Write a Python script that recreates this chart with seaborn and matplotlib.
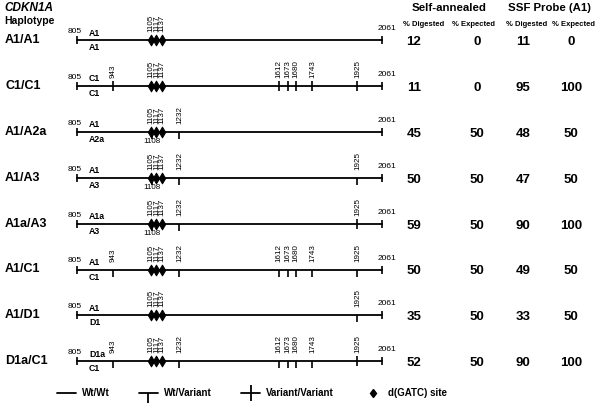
import numpy as np
import pandas as pd
import matplotlib
matplotlib.use("Agg")
import matplotlib.pyplot as plt
from matplotlib.lines import Line2D
import seaborn as sns

sns.set_theme(style="white")
plt.rcParams['font.family'] = ['Liberation Sans', 'DejaVu Sans']
plt.rcParams['text.color'] = 'black'

# --- data -------------------------------------------------------------
haplotypes = ['A1/A1', 'C1/C1', 'A1/A2a', 'A1/A3', 'A1a/A3', 'A1/C1', 'A1/D1', 'D1a/C1']
top_alleles = ['A1', 'C1', 'A1', 'A1', 'A1a', 'A1', 'A1', 'D1a']
bottom_alleles = ['A1', 'C1', 'A2a', 'A3', 'A3', 'C1', 'D1', 'C1']

fragment = [805, 2061]
gatc_sites = [1105, 1117, 1137]

# Wt/Variant (one allele carries the variant)
het_sites = [[], [], [1108, 1232], [1108, 1232, 1925], [1108, 1232],
             [943, 1232, 1612, 1673, 1680, 1743, 1925], [1925],
             [943, 1232, 1612, 1673, 1680, 1743]]
# Variant/Variant (both alleles)
hom_sites = [[], [943, 1612, 1673, 1680, 1743, 1925], [], [], [1925], [], [], [1925]]
# sites labelled below the line instead of above
below_labels = [1108]

self_digested = [12, 11, 45, 50, 59, 50, 35, 52]
self_expected = [0, 0, 50, 50, 50, 50, 50, 50]
ssf_digested = [11, 95, 48, 47, 90, 49, 33, 90]
ssf_expected = [0, 100, 50, 50, 100, 50, 50, 100]

# --- layout: the diagram is schematic, not to scale ---------------------
W, H = 600, 404
PT = 0.72  # points per pixel at 100 dpi
axis_nt = [805, 943, 1105, 1117, 1137, 1232, 1612, 1673, 1680, 1743, 1925, 2061]
axis_px = [77, 113, 151, 156.5, 162, 179.5, 279, 288, 296, 312.5, 357.5, 382]
row0_px, row_step = 40.0, 45.9


def fwd(x):
    return np.interp(x, axis_nt, axis_px)


def inv(x):
    return np.interp(x, axis_px, axis_nt)


fig = plt.figure(figsize=(W / 100, H / 100), dpi=100)
ax = fig.add_axes([77 / W, 0, 305 / W, 1])
ax.set_xscale('function', functions=(fwd, inv))
ax.set_xlim(fragment[0], fragment[1])
ax.set_ylim((H - row0_px) / row_step, -row0_px / row_step)
ax.axis('off')

rows = np.arange(len(haplotypes))

# backbone lines
df_lines = pd.DataFrame({
    'haplotype': np.repeat(haplotypes, 2),
    'pos': fragment * len(haplotypes),
    'row': np.repeat(rows, 2),
})
sns.lineplot(data=df_lines, x='pos', y='row', units='haplotype', estimator=None,
             color='black', lw=1.3, ax=ax, clip_on=False)

# fragment end caps
ax.plot(df_lines['pos'], df_lines['row'], ls='none', marker='|', ms=6, mew=1.2,
        color='black', clip_on=False)

# variant ticks
het = pd.DataFrame([(p, r) for r, s in enumerate(het_sites) for p in s], columns=['pos', 'row'])
hom = pd.DataFrame([(p, r) for r, s in enumerate(hom_sites) for p in s], columns=['pos', 'row'])
ax.plot(het['pos'], het['row'], ls='none', marker=3, ms=4.8, mew=1.2, color='black', clip_on=False)
ax.plot(hom['pos'], hom['row'], ls='none', marker='|', ms=7, mew=1.2, color='black', clip_on=False)

# d(GATC) sites
df_gatc = pd.DataFrame([(p, r) for r in rows for p in gatc_sites], columns=['pos', 'row'])
sns.scatterplot(data=df_gatc, x='pos', y='row', marker='d', s=30, color='black',
                edgecolor='black', linewidth=0.7, ax=ax, clip_on=False, zorder=4)
ax.set_xlabel('')
ax.set_ylabel('')

# position labels
for r in rows:
    sites = sorted(set(gatc_sites + het_sites[r] + hom_sites[r]))
    for p in sites:
        if p in below_labels:
            ax.annotate(str(p), (p, r), xytext=(0, -6 * PT), textcoords='offset points',
                        ha='center', va='top', fontsize=5.8, annotation_clip=False)
        else:
            ax.annotate(str(p), (p, r), xytext=(0, 8 * PT), textcoords='offset points',
                        ha='center', va='bottom', rotation=90, fontsize=5.8,
                        annotation_clip=False)
    ax.annotate(str(fragment[0]), (fragment[0], r), xytext=(-2 * PT, 5 * PT),
                textcoords='offset points', ha='center', va='bottom', fontsize=6,
                annotation_clip=False)
    ax.annotate(str(fragment[1]), (fragment[1], r), xytext=(5 * PT, 8 * PT),
                textcoords='offset points', ha='center', va='bottom', fontsize=6,
                annotation_clip=False)
    ax.annotate(top_alleles[r], (fragment[0], r), xytext=(12 * PT, 2.5 * PT),
                textcoords='offset points', ha='left', va='bottom', fontsize=6.3,
                fontweight='bold', annotation_clip=False)
    ax.annotate(bottom_alleles[r], (fragment[0], r), xytext=(12 * PT, -3 * PT),
                textcoords='offset points', ha='left', va='top', fontsize=6.3,
                fontweight='bold', annotation_clip=False)
    ax.annotate(haplotypes[r], (5 / W, r), xycoords=('figure fraction', 'data'),
                ha='left', va='center', fontsize=9, fontweight='bold',
                annotation_clip=False)

# result columns
col_x = [414, 477, 523, 571]
for vals, cx in zip([self_digested, self_expected, ssf_digested, ssf_expected], col_x):
    for r, v in enumerate(vals):
        ax.annotate(str(v), (cx / W, r), xycoords=('figure fraction', 'data'),
                    xytext=(0, -2 * PT), textcoords='offset points',
                    ha='center', va='center', fontsize=9.5, fontweight='bold',
                    annotation_clip=False)

# headers
fig.text(4 / W, 1 - 8 / H, 'CDKN1A', ha='left', va='center', fontsize=8.5,
         fontweight='bold', style='italic')
fig.text(4 / W, 1 - 21 / H, 'Haplotype', ha='left', va='center', fontsize=7.5,
         fontweight='bold')
fig.text(449 / W, 1 - 8 / H, 'Self-annealed', ha='center', va='center', fontsize=8.2,
         fontweight='bold')
fig.text(550 / W, 1 - 8 / H, 'SSF Probe (A1)', ha='center', va='center', fontsize=8.2,
         fontweight='bold')
for sx, lab in zip([424, 473, 527, 574], ['% Digested', '% Expected', '% Digested', '% Expected']):
    fig.text(sx / W, 1 - 24 / H, lab, ha='center', va='center', fontsize=5.5,
             fontweight='bold')

# legend
handles = [
    Line2D([], [], color='black', lw=1.3),
    Line2D([], [], color='black', lw=1.3, marker=3, ms=7, mew=1.3),
    Line2D([], [], color='black', lw=1.3, marker='|', ms=11, mew=1.3),
    Line2D([], [], color='black', ls='none', marker='d', ms=4.5),
]
labels = ['Wt/Wt', 'Wt/Variant', 'Variant/Variant', 'd(GATC) site']
fig.legend(handles, labels, loc='center', bbox_to_anchor=(252 / W, 1 - 393 / H), ncol=4,
           frameon=False, prop={'size': 7, 'weight': 'bold'}, handlelength=2.0,
           handletextpad=0.6, columnspacing=3.0, numpoints=1)

fig.savefig('out.png', dpi=100)
